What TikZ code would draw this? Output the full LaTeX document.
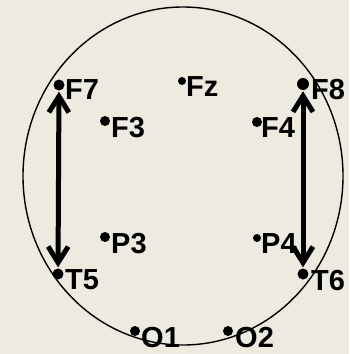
\documentclass[tikz,border=0pt]{standalone}
\usepackage{fontspec}
\setmainfont{Liberation Sans}
\usetikzlibrary{arrows.meta}
\definecolor{paper}{RGB}{237,235,224}

\begin{document}
\begin{tikzpicture}[x=1pt, y=-1pt, >={Straight Barb[length=16pt, width=20pt]},
    electrode/.style={circle, fill=black, inner sep=0pt, minimum size=#1},
    electrode/.default=9pt,
    elabel/.style={anchor=base west, inner sep=0pt, font=\fontsize{29}{32}\selectfont\bfseries}]
    \fill[paper] (0,0) rectangle (349,354);
    \useasboundingbox (0,0) rectangle (349,354);

    % head
    \draw[line width=1.4pt] (183,176) ellipse [x radius=160pt, y radius=169pt];

    % electrodes
    \foreach \name/\px/\py/\sz/\tx/\ty in {F7/59/85/11pt/65/99, Fz/182/81/8pt/186/96,
        F8/303/84/12pt/311/99, F3/105/121/10pt/111/137, F4/257/122/10pt/261/137,
        P3/105/237/10pt/111/253, P4/257/238/8pt/261/253, T5/58/274/11pt/65/289,
        T6/303/274/11pt/311/290, O1/135/331/10pt/141/347, O2/228/331/10pt/235/347} {
        \node[electrode=\sz] (\name) at (\px,\py) {};
        \node[elabel] (\name-label) at (\tx,\ty) {\name};
    }

    % montage arrows
    \draw[<->, line width=5pt, shorten <=1pt, shorten >=1pt] (F7) -- (T5);
    \draw[<->, line width=5pt, shorten <=1pt, shorten >=1pt] (F8) -- (T6);

\end{tikzpicture}
\end{document}
